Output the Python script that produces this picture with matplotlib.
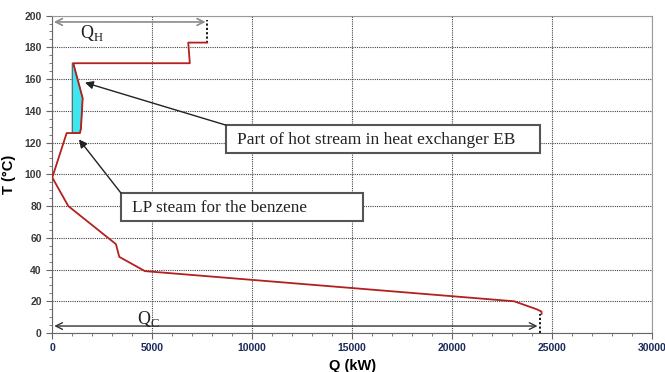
import matplotlib
matplotlib.use("Agg")
import matplotlib.pyplot as plt
from matplotlib.patches import Rectangle, Polygon
from matplotlib.ticker import MultipleLocator, AutoMinorLocator

# Grand composite curve, Q (kW) vs T (degC)
q_curve = [7750, 6800, 6880, 1050, 1520, 1435, 1385, 720, 0, 800, 3185, 3350, 4635, 23100, 24220, 24470, 24470]
t_curve = [183, 183, 170, 170, 148, 129, 126, 126, 98, 80, 56, 48, 39, 20, 15, 13.5, 12]

# cyan pocket (hot stream part in EB)
q_pocket = [1000, 1050, 1520, 1435, 1385, 1000]
t_pocket = [170, 170, 148, 129, 126, 126]

q_hot_util = 7750
q_cold_util = 24470

label_eb = "Part of hot stream in heat exchanger EB"
label_lp = "LP steam for the benzene"

fig = plt.figure(figsize=(6.65, 3.72), dpi=100)
ax = fig.add_axes([0.0786, 0.1048, 0.902, 0.8532])

ax.set_xlim(0, 30000)
ax.set_ylim(0, 200)

# pocket fill + curve
ax.add_patch(Polygon(list(zip(q_pocket, t_pocket)), closed=True,
                     facecolor='#3fe6f0', edgecolor='#555555', lw=0.8, zorder=3))
ax.plot(q_curve, t_curve, color='#b3201e', lw=1.3, zorder=4)

# utility arrows
ax.annotate('', xy=(q_hot_util - 80, 196), xytext=(80, 196),
            arrowprops=dict(arrowstyle='<->', color='#8a8a8a', lw=1.2,
                            shrinkA=0, shrinkB=0, mutation_scale=12))
ax.plot([q_hot_util, q_hot_util], [183, 197.5], color='black', lw=1.3, ls=(0, (1.2, 1.2)))
ax.text(1385, 189, r'Q$_\mathregular{H}$', family='Liberation Serif', fontsize=13,
        va='center', ha='left', color='#222222')

ax.annotate('', xy=(q_cold_util - 200, 4.4), xytext=(100, 4.4),
            arrowprops=dict(arrowstyle='<->', color='#333333', lw=1.0,
                            shrinkA=0, shrinkB=0, mutation_scale=12))
ax.plot([24385, 24385], [0, 12], color='black', lw=1.3, ls=(0, (1.2, 1.2)))
ax.text(4235, 9, r'Q$_\mathregular{C}$', family='Liberation Serif', fontsize=13,
        va='center', ha='left', color='#222222')

# annotation boxes
ax.add_patch(Rectangle((8685, 113.4), 24385 - 8685, 131.0 - 113.4,
                       facecolor='white', edgecolor='#555555', lw=1.5, zorder=5))
ax.text(9235, 121.8, label_eb, family='Liberation Serif', fontsize=12.5,
        va='center', ha='left', color='#222222', zorder=6)
ax.annotate('', xy=(1635, 157.8), xytext=(8685, 131.0),
            arrowprops=dict(arrowstyle='-|>', color='#222222', lw=1.0,
                            shrinkA=0, shrinkB=0, mutation_scale=12), zorder=5)

ax.add_patch(Rectangle((3435, 70.6), 15535 - 3435, 88.2 - 70.6,
                       facecolor='white', edgecolor='#555555', lw=1.5, zorder=5))
ax.text(3985, 79.0, label_lp, family='Liberation Serif', fontsize=12.4,
        va='center', ha='left', color='#222222', zorder=6)
ax.annotate('', xy=(1335, 122), xytext=(3435, 88.2),
            arrowprops=dict(arrowstyle='-|>', color='#222222', lw=1.0,
                            shrinkA=0, shrinkB=0, mutation_scale=12), zorder=5)

# axes style
ax.xaxis.set_major_locator(MultipleLocator(5000))
ax.xaxis.set_minor_locator(AutoMinorLocator(5))
ax.yaxis.set_major_locator(MultipleLocator(20))
ax.yaxis.set_minor_locator(AutoMinorLocator(4))
ax.grid(True, which='major', color='#444444', ls=(0, (1, 1)), lw=0.8)
ax.set_axisbelow(True)

for side in ['top', 'right']:
    ax.spines[side].set_color('#9a9a9a')
for side in ['left', 'bottom']:
    ax.spines[side].set_color('#666666')

ax.tick_params(axis='both', which='major', length=4, color='#666666')
ax.tick_params(axis='both', which='minor', length=2.5, color='#666666')
for lab in ax.get_xticklabels():
    lab.set_fontweight('bold')
    lab.set_color('#1c2a5a')
    lab.set_fontsize(7.5)
    lab.set_family('Liberation Sans')
for lab in ax.get_yticklabels():
    lab.set_fontweight('bold')
    lab.set_color('#3a3a3a')
    lab.set_fontsize(7.5)
    lab.set_family('Liberation Sans')

ax.set_xlabel('Q (kW)', fontweight='bold', fontsize=10.5, family='Liberation Sans', labelpad=4)
ax.set_ylabel('T (°C)', fontweight='bold', fontsize=10.5, family='Liberation Sans', labelpad=6)

fig.savefig('out.png', dpi=100)
